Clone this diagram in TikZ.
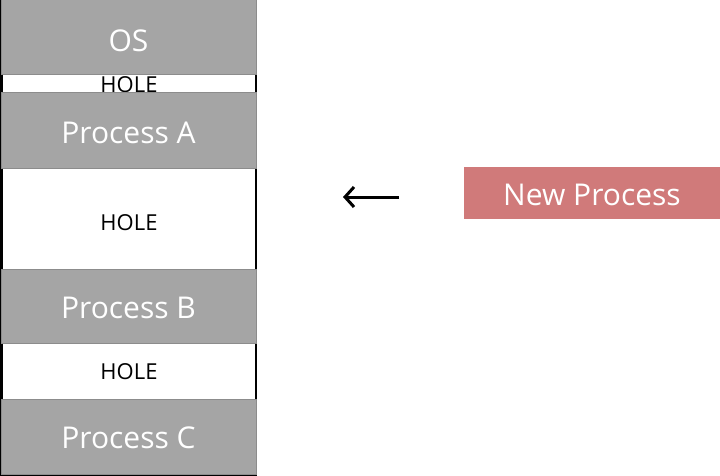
\documentclass[tikz,border=0pt]{standalone}
\usepackage{fontspec}
\setmainfont{Open Sans}
\usetikzlibrary{arrows.meta}
\definecolor{blockfill}{HTML}{A5A5A5}
\definecolor{blockline}{HTML}{8C8C8C}
\definecolor{newfill}{HTML}{D07A7A}
\tikzset{
  blk/.style={draw=blockline, line width=1pt, fill=blockfill, text=white,
    minimum width=255pt, inner sep=0pt, text depth=0pt, font=\fontsize{30}{30}\selectfont},
  hole/.style={fill=white, minimum width=252pt, inner sep=0pt},
  holetext/.style={anchor=base, inner sep=0pt, text=black, font=\fontsize{22}{22}\selectfont},
  newproc/.style={fill=newfill, text=white, inner sep=0pt, text depth=0pt,
    font=\fontsize{30}{30}\selectfont},
  arr/.style={line width=3pt, -{Straight Barb[length=9pt,width=20pt,line width=3pt]}}
}
\begin{document}
\begin{tikzpicture}[x=1pt,y=-1pt]
\useasboundingbox (0,0) rectangle (720,476);
% outer frame
\draw[line width=3pt, black] (1.5,0) rectangle (255.5,474.5);
% holes
\node[hole, minimum height=18pt] (h1) at (128.5,84) {};
\node[hole, minimum height=101pt] (h2) at (128.5,218.5) {};
\node[hole, minimum height=56pt] (h3) at (128.5,371) {};
\node[holetext] (h1t) at (129,92.5) {HOLE};
\node[holetext] (h2t) at (129,230) {HOLE};
\node[holetext] (h3t) at (129,379) {HOLE};
% blocks
\node[blk, minimum height=75pt, text height=28pt] (os) at (128.5,37.5) {OS};
\node[blk, minimum height=75pt, text height=25pt] (pa) at (128.5,130.5) {Process A};
\node[blk, minimum height=74pt, text height=24pt] (pb) at (128.5,306) {Process B};
\node[blk, minimum height=75pt, text height=23pt] (pc) at (128.5,436.5) {Process C};
% new process
\node[newproc, minimum width=256pt, minimum height=52pt, text height=24pt] (np) at (592,193) {New Process};
\coordinate (as) at (399,197);
\coordinate (ae) at (343,197);
\draw[arr] (as) -- (ae);
\end{tikzpicture}
\end{document}
